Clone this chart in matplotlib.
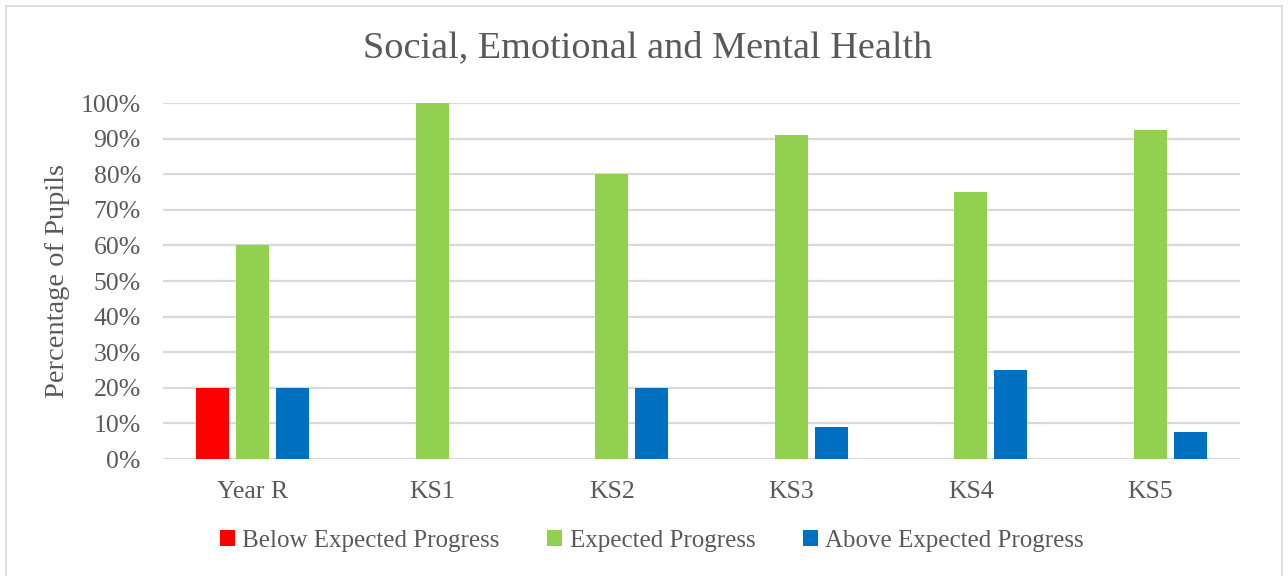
import matplotlib
matplotlib.use('Agg')
import matplotlib.pyplot as plt
from matplotlib.patches import Rectangle
from matplotlib.ticker import PercentFormatter
import numpy

categories = ['Year R', 'KS1', 'KS2', 'KS3', 'KS4', 'KS5']
below_expected = [0.20, 0.0, 0.0, 0.0, 0.0, 0.0]
expected = [0.60, 1.00, 0.80, 0.909, 0.75, 0.923]
above_expected = [0.20, 0.0, 0.20, 0.091, 0.25, 0.077]
series_names = ['Below Expected Progress', 'Expected Progress', 'Above Expected Progress']
series_colors = ['#ff0000', '#92d050', '#0070c0']

grey_text = '#595959'
plt.rcParams['font.family'] = ['Liberation Serif', 'DejaVu Serif']

fig = plt.figure(figsize=(12.88, 5.76), dpi=100)
W, H = 1288, 576

# chart border
fig.patches.append(Rectangle((6 / W, -0.05), (1282 - 6) / W, (576 - 6) / H + 0.05,
                             transform=fig.transFigure, fill=False,
                             edgecolor='#d9d9d9', linewidth=1.2))

ax = fig.add_axes([163 / W, 1 - 459 / H, (1240 - 163) / W, (459 - 103) / H])

x = numpy.arange(len(categories))
bar_w = 0.184
step = 0.223
for i, (vals, name, col) in enumerate(zip([below_expected, expected, above_expected],
                                          series_names, series_colors)):
    ax.bar(x + (i - 1) * step, vals, width=bar_w, color=col, label=name, zorder=3)

ax.set_xlim(-0.5, len(categories) - 0.5)
ax.set_ylim(0, 1.0)
ax.set_yticks(numpy.arange(0, 1.01, 0.1))
ax.yaxis.set_major_formatter(PercentFormatter(1.0, decimals=0))
ax.grid(axis='y', color='#d9d9d9', linewidth=1.6, zorder=0)
ax.set_axisbelow(True)
for s in ax.spines.values():
    s.set_visible(False)
ax.tick_params(length=0, labelsize=18.5, colors=grey_text)
ax.tick_params(axis='y', pad=16)
ax.tick_params(axis='x', pad=16)
ax.set_xticks(x)
ax.set_xticklabels(categories)

ax.set_ylabel('Percentage of Pupils', fontsize=20.5, color=grey_text)
ax.yaxis.set_label_coords((70 - 163) / (1240 - 163), 0.5)
fig.text(648 / W, 1 - 48 / H, 'Social, Emotional and Mental Health', ha='center', va='center',
         fontsize=27.5, color=grey_text)

leg = fig.legend(loc='center', bbox_to_anchor=(652 / W, 1 - 541 / H), ncol=3, frameon=False,
                 fontsize=18, handlelength=0.6, handleheight=0.6, handletextpad=0.3,
                 columnspacing=1.9, labelcolor=grey_text)

fig.savefig('out.png', dpi=100)
